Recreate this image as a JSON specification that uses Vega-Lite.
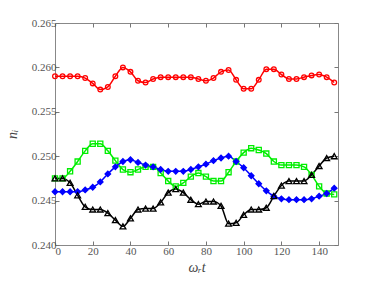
{
  "$schema": "https://vega.github.io/schema/vega-lite/v6.json",
  "width": 283,
  "height": 222,
  "autosize": "none",
  "padding": {"left": 55, "top": 23, "right": 36, "bottom": 36},
  "background": "white",
  "config": {
    "view": {"stroke": "#888888", "strokeWidth": 1},
    "axis": {
      "grid": false,
      "domain": false,
      "tickColor": "#777777",
      "tickSize": -4,
      "labelFont": "'Liberation Serif', 'DejaVu Serif', serif",
      "labelFontSize": 11,
      "labelColor": "#555555",
      "titleFont": "'Liberation Serif', 'DejaVu Serif', serif",
      "titleFontSize": 14,
      "titleFontStyle": "italic",
      "titleFontWeight": "normal",
      "titleColor": "#444444"
    }
  },
  "data": {"values": [
    {"t":0,"n":0.2590,"s":"red"},{"t":4,"n":0.2590,"s":"red"},{"t":8,"n":0.2590,"s":"red"},{"t":12,"n":0.2590,"s":"red"},{"t":16,"n":0.2588,"s":"red"},{"t":20,"n":0.2582,"s":"red"},{"t":24,"n":0.2575,"s":"red"},{"t":28,"n":0.2578,"s":"red"},{"t":32,"n":0.2590,"s":"red"},{"t":36,"n":0.2600,"s":"red"},{"t":40,"n":0.2595,"s":"red"},{"t":44,"n":0.2585,"s":"red"},{"t":48,"n":0.2583,"s":"red"},{"t":52,"n":0.2587,"s":"red"},{"t":56,"n":0.2589,"s":"red"},{"t":60,"n":0.2589,"s":"red"},{"t":64,"n":0.2589,"s":"red"},{"t":68,"n":0.2589,"s":"red"},{"t":72,"n":0.2589,"s":"red"},{"t":76,"n":0.2587,"s":"red"},{"t":80,"n":0.2585,"s":"red"},{"t":84,"n":0.2588,"s":"red"},{"t":88,"n":0.2595,"s":"red"},{"t":92,"n":0.2597,"s":"red"},{"t":96,"n":0.2586,"s":"red"},{"t":100,"n":0.2576,"s":"red"},{"t":104,"n":0.2576,"s":"red"},{"t":108,"n":0.2586,"s":"red"},{"t":112,"n":0.2598,"s":"red"},{"t":116,"n":0.2598,"s":"red"},{"t":120,"n":0.2592,"s":"red"},{"t":124,"n":0.2587,"s":"red"},{"t":128,"n":0.2587,"s":"red"},{"t":132,"n":0.2589,"s":"red"},{"t":136,"n":0.2591,"s":"red"},{"t":140,"n":0.2592,"s":"red"},{"t":144,"n":0.2589,"s":"red"},{"t":148,"n":0.2583,"s":"red"},

    {"t":0,"n":0.2475,"s":"green"},{"t":4,"n":0.2475,"s":"green"},{"t":8,"n":0.2483,"s":"green"},{"t":12,"n":0.2494,"s":"green"},{"t":16,"n":0.2506,"s":"green"},{"t":20,"n":0.2514,"s":"green"},{"t":24,"n":0.2514,"s":"green"},{"t":28,"n":0.2506,"s":"green"},{"t":32,"n":0.2495,"s":"green"},{"t":36,"n":0.2485,"s":"green"},{"t":40,"n":0.2482,"s":"green"},{"t":44,"n":0.2485,"s":"green"},{"t":48,"n":0.2488,"s":"green"},{"t":52,"n":0.2488,"s":"green"},{"t":56,"n":0.2481,"s":"green"},{"t":60,"n":0.2472,"s":"green"},{"t":64,"n":0.2466,"s":"green"},{"t":68,"n":0.2470,"s":"green"},{"t":72,"n":0.2477,"s":"green"},{"t":76,"n":0.2481,"s":"green"},{"t":80,"n":0.2477,"s":"green"},{"t":84,"n":0.2472,"s":"green"},{"t":88,"n":0.2472,"s":"green"},{"t":92,"n":0.2482,"s":"green"},{"t":96,"n":0.2494,"s":"green"},{"t":100,"n":0.2504,"s":"green"},{"t":104,"n":0.2509,"s":"green"},{"t":108,"n":0.2507,"s":"green"},{"t":112,"n":0.2503,"s":"green"},{"t":116,"n":0.2494,"s":"green"},{"t":120,"n":0.2490,"s":"green"},{"t":124,"n":0.2490,"s":"green"},{"t":128,"n":0.2490,"s":"green"},{"t":132,"n":0.2488,"s":"green"},{"t":136,"n":0.2479,"s":"green"},{"t":140,"n":0.2466,"s":"green"},{"t":144,"n":0.2458,"s":"green"},{"t":148,"n":0.2457,"s":"green"},

    {"t":0,"n":0.2460,"s":"blue"},{"t":4,"n":0.2460,"s":"blue"},{"t":8,"n":0.2460,"s":"blue"},{"t":12,"n":0.2460,"s":"blue"},{"t":16,"n":0.2462,"s":"blue"},{"t":20,"n":0.2465,"s":"blue"},{"t":24,"n":0.2471,"s":"blue"},{"t":28,"n":0.2480,"s":"blue"},{"t":32,"n":0.2488,"s":"blue"},{"t":36,"n":0.2494,"s":"blue"},{"t":40,"n":0.2496,"s":"blue"},{"t":44,"n":0.2493,"s":"blue"},{"t":48,"n":0.2490,"s":"blue"},{"t":52,"n":0.2488,"s":"blue"},{"t":56,"n":0.2485,"s":"blue"},{"t":60,"n":0.2483,"s":"blue"},{"t":64,"n":0.2483,"s":"blue"},{"t":68,"n":0.2483,"s":"blue"},{"t":72,"n":0.2485,"s":"blue"},{"t":76,"n":0.2488,"s":"blue"},{"t":80,"n":0.2491,"s":"blue"},{"t":84,"n":0.2495,"s":"blue"},{"t":88,"n":0.2498,"s":"blue"},{"t":92,"n":0.2500,"s":"blue"},{"t":96,"n":0.2494,"s":"blue"},{"t":100,"n":0.2487,"s":"blue"},{"t":104,"n":0.2478,"s":"blue"},{"t":108,"n":0.2469,"s":"blue"},{"t":112,"n":0.2461,"s":"blue"},{"t":116,"n":0.2455,"s":"blue"},{"t":120,"n":0.2452,"s":"blue"},{"t":124,"n":0.2451,"s":"blue"},{"t":128,"n":0.2451,"s":"blue"},{"t":132,"n":0.2451,"s":"blue"},{"t":136,"n":0.2452,"s":"blue"},{"t":140,"n":0.2455,"s":"blue"},{"t":144,"n":0.2458,"s":"blue"},{"t":148,"n":0.2464,"s":"blue"},

    {"t":0,"n":0.2475,"s":"black"},{"t":4,"n":0.2475,"s":"black"},{"t":8,"n":0.2470,"s":"black"},{"t":12,"n":0.2456,"s":"black"},{"t":16,"n":0.2443,"s":"black"},{"t":20,"n":0.2440,"s":"black"},{"t":24,"n":0.2440,"s":"black"},{"t":28,"n":0.2436,"s":"black"},{"t":32,"n":0.2428,"s":"black"},{"t":36,"n":0.2421,"s":"black"},{"t":40,"n":0.2430,"s":"black"},{"t":44,"n":0.2440,"s":"black"},{"t":48,"n":0.2441,"s":"black"},{"t":52,"n":0.2441,"s":"black"},{"t":56,"n":0.2448,"s":"black"},{"t":60,"n":0.2459,"s":"black"},{"t":64,"n":0.2463,"s":"black"},{"t":68,"n":0.2459,"s":"black"},{"t":72,"n":0.2451,"s":"black"},{"t":76,"n":0.2446,"s":"black"},{"t":80,"n":0.2449,"s":"black"},{"t":84,"n":0.2449,"s":"black"},{"t":88,"n":0.2444,"s":"black"},{"t":92,"n":0.2424,"s":"black"},{"t":96,"n":0.2425,"s":"black"},{"t":100,"n":0.2434,"s":"black"},{"t":104,"n":0.2440,"s":"black"},{"t":108,"n":0.2440,"s":"black"},{"t":112,"n":0.2442,"s":"black"},{"t":116,"n":0.2455,"s":"black"},{"t":120,"n":0.2467,"s":"black"},{"t":124,"n":0.2472,"s":"black"},{"t":128,"n":0.2472,"s":"black"},{"t":132,"n":0.2472,"s":"black"},{"t":136,"n":0.2479,"s":"black"},{"t":140,"n":0.2489,"s":"black"},{"t":144,"n":0.2498,"s":"black"},{"t":148,"n":0.2500,"s":"black"}
  ]},
  "layer": [
    {
      "mark": {"type": "line", "interpolate": "monotone", "strokeWidth": 1.5},
      "encoding": {
        "x": {
          "field": "t", "type": "quantitative",
          "scale": {"domain": [0, 150], "nice": false, "zero": false},
          "axis": {"values": [0,20,40,60,80,100,120,140], "title": "ωᵣt", "titlePadding": 4, "labelPadding": 4}
        },
        "y": {
          "field": "n", "type": "quantitative",
          "scale": {"domain": [0.24, 0.265], "nice": false, "zero": false},
          "axis": {"values": [0.24,0.245,0.25,0.255,0.26,0.265], "format": ".3f", "title": "nᵢ", "titlePadding": 12, "labelPadding": 3}
        },
        "color": {
          "field": "s", "type": "nominal", "legend": null,
          "scale": {"domain": ["red","green","blue","black"], "range": ["#ff0000","#00ee00","#0000ff","#000000"]}
        }
      }
    },
    {
      "mark": {"type": "point", "strokeWidth": 1.3, "opacity": 1},
      "encoding": {
        "x": {"field": "t", "type": "quantitative", "axis": null},
        "y": {"field": "n", "type": "quantitative", "axis": null},
        "color": {"field": "s", "type": "nominal", "legend": null},
        "shape": {"field": "s", "type": "nominal", "legend": null,
          "scale": {"domain": ["red","green","blue","black"], "range": ["circle","square","diamond","triangle-up"]}},
        "fill": {"field": "s", "type": "nominal", "legend": null,
          "scale": {"domain": ["red","green","blue","black"], "range": ["transparent","transparent","#0000ff","transparent"]}},
        "size": {"field": "s", "type": "nominal", "legend": null,
          "scale": {"domain": ["red","green","blue","black"], "range": [22, 34, 22, 28]}}
      }
    },
    {
      "mark": {"type": "point", "opacity": 0},
      "encoding": {
        "x": {"field": "t", "type": "quantitative", "axis": {"orient": "top", "values": [0,20,40,60,80,100,120,140], "labels": false, "title": null}},
        "y": {"field": "n", "type": "quantitative", "axis": {"orient": "right", "values": [0.24,0.245,0.25,0.255,0.26,0.265], "labels": false, "title": null}}
      }
    }
  ],
  "resolve": {"axis": {"x": "independent", "y": "independent"}}
}
